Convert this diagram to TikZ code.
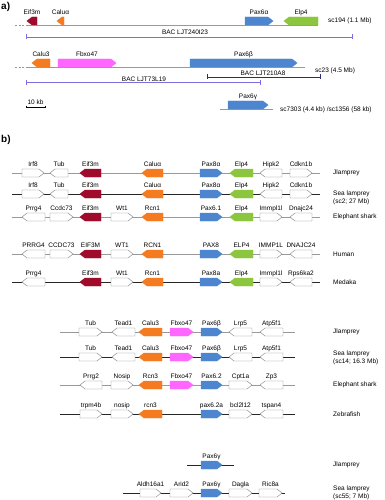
\documentclass[tikz,border=0pt]{standalone}
\usepackage{fontspec}
\setmainfont{Liberation Sans}
\definecolor{redG}{HTML}{9E0B2B}
\definecolor{orgG}{HTML}{F47B20}
\definecolor{bluG}{HTML}{4D86CF}
\definecolor{grnG}{HTML}{8CC63E}
\definecolor{magG}{HTML}{FF66FF}
\definecolor{bacA}{HTML}{7B6FE0}
\definecolor{bacB}{HTML}{2B2B7A}
\tikzset{
  wbox/.style={fill=white,draw=gray,line width=0.4pt},
  rbox/.style={fill=redG,draw=redG},
  obox/.style={fill=orgG,draw=orgG},
  bbox/.style={fill=bluG,draw=bluG},
  gbox/.style={fill=grnG,draw=grnG},
  mbox/.style={fill=magG,draw=magG},
  glabel/.style={font=\fontsize{6.5}{7}\selectfont,inner sep=0pt},
  slabel/.style={font=\fontsize{6.5}{7.8}\selectfont,inner sep=0pt,anchor=west,align=left},
  chrom/.style={line width=0.6pt,draw=gray!80},
  chromd/.style={line width=0.6pt,draw=black!85},
  baclineA/.style={line width=0.7pt,draw=bacA},
  baclineB/.style={line width=0.7pt,draw=bacB},
  panel/.style={font=\bfseries\fontsize{10}{12}\selectfont,inner sep=0pt,anchor=west}
}
% right-pointing gene: name, x1, x2, yc, style, label
\newcommand\geneR[6]{%
  \draw[#5] (#2,#4-4) -- (#3-5,#4-4) -- (#3,#4) -- (#3-5,#4+4) -- (#2,#4+4) -- cycle;
  \node[glabel] (#1) at ({(#2+#3)/2},#4-8.5) {#6};}
% left-pointing gene
\newcommand\geneL[6]{%
  \draw[#5] (#3,#4-4) -- (#2+5,#4-4) -- (#2,#4) -- (#2+5,#4+4) -- (#3,#4+4) -- cycle;
  \node[glabel] (#1) at ({(#2+#3)/2},#4-8.5) {#6};}
\begin{document}
\begin{tikzpicture}[x=1pt,y=-1pt]
\useasboundingbox (0,0) rectangle (385,500);
% ---------------- a) ----------------
\node[panel] (pa) at (1,7) {a)};
% row 1
\coordinate (r1s) at (15,25); \coordinate (r1a) at (27,25); \coordinate (r1e) at (318,25);
\draw[chrom,dashed,dash pattern=on 2pt off 1.5pt] (r1s) -- (r1a);
\draw[chrom] (r1a) -- (r1e);
\geneL{a1}{27}{37}{21}{rbox}{Eif3m}
\geneL{a2}{57}{64}{21}{obox}{Caluα}
\geneR{a3}{245}{273}{21}{bbox}{Pax6α}
\geneL{a4}{284}{318}{21}{gbox}{Elp4}
\node[slabel] (sa1) at (328,21) {sc194 (1.1 Mb)};
% BAC 240I23
\coordinate (b1s) at (26,37); \coordinate (b1e) at (352,37);
\draw[baclineA] (b1s) -- (b1e);
\draw[baclineA] ([yshift=2.5pt]b1s) -- ([yshift=-2.5pt]b1s);
\draw[baclineA] ([yshift=2.5pt]b1e) -- ([yshift=-2.5pt]b1e);
\node[glabel] (bl1) at (185,32.5) {BAC LJT240I23};
% row 2
\coordinate (r2s) at (15,67); \coordinate (r2a) at (27,67); \coordinate (r2e) at (305,67);
\draw[chrom,dashed,dash pattern=on 2pt off 1.5pt] (r2s) -- (r2a);
\draw[chrom] (r2a) -- (r2e);
\geneL{a5}{32}{50}{63}{obox}{Calu3}
\geneR{a6}{58}{116}{63}{mbox}{Fbxo47}
\geneR{a7}{190}{297}{63}{bbox}{Pax6β}
\node[slabel] (sa2) at (315,71) {sc23 (4.5 Mb)};
% BAC 210A8
\coordinate (b2s) at (207,77); \coordinate (b2e) at (320,77);
\draw[baclineB] (b2s) -- (b2e);
\draw[baclineB] ([yshift=2.5pt]b2s) -- ([yshift=-2.5pt]b2s);
\draw[baclineB] ([yshift=2.5pt]b2e) -- ([yshift=-2.5pt]b2e);
\node[glabel] (bl2) at (263,73) {BAC LJT210A8};
% BAC 73L19
\coordinate (b3s) at (26,82.5); \coordinate (b3e) at (260,82.5);
\draw[baclineA] (b3s) -- (b3e);
\draw[baclineA] ([yshift=2.5pt]b3s) -- ([yshift=-2.5pt]b3s);
\draw[baclineA] ([yshift=2.5pt]b3e) -- ([yshift=-2.5pt]b3e);
\node[glabel] (bl3) at (144,79) {BAC LJT73L19};
% scale
\coordinate (scs) at (26,107); \coordinate (sce) at (45,107);
\draw[line width=0.5pt] (scs) -- (sce);
\draw[line width=0.4pt] ([yshift=1pt]scs) -- ([yshift=-1pt]scs);
\draw[line width=0.4pt] ([yshift=1pt]sce) -- ([yshift=-1pt]sce);
\node[glabel] (scl) at (35.5,102.5) {10 kb};
% row 3
\coordinate (r3s) at (220,109); \coordinate (r3e) at (273,109);
\draw[chrom] (r3s) -- (r3e);
\geneR{a8}{228}{268}{105}{bbox}{Pax6γ}
\node[slabel] (sa3) at (280,109.5) {sc7303 (4.4 kb) /sc1356 (58 kb)};
% ---------------- b) ----------------
\node[panel] (pb) at (1,140) {b)};
% b1 Jlamprey
\coordinate (c1s) at (12,173); \coordinate (c1e) at (320,173);
\draw[chrom] (c1s) -- (c1e);
\geneR{g11}{22}{44}{173}{wbox}{Irf8}
\geneL{g12}{50}{68}{173}{wbox}{Tub}
\geneL{g13}{80}{101}{173}{rbox}{Eif3m}
\geneL{g14}{142}{163}{173}{obox}{Caluα}
\geneR{g15}{200}{222}{173}{bbox}{Pax8α}
\geneL{g16}{230}{253}{173}{gbox}{Elp4}
\geneL{g17}{260}{282}{173}{wbox}{Hipk2}
\geneR{g18}{290}{312}{173}{wbox}{Cdkn1b}
\node[slabel] (s1) at (333,173) {Jlamprey};
% b2 Sea lamprey
\coordinate (c2s) at (12,194); \coordinate (c2e) at (320,194);
\draw[chromd] (c2s) -- (c2e);
\geneR{g21}{22}{44}{194}{wbox}{Irf8}
\geneL{g22}{50}{68}{194}{wbox}{Tub}
\geneL{g23}{80}{101}{194}{rbox}{Eif3m}
\geneL{g24}{142}{163}{194}{obox}{Caluα}
\geneR{g25}{200}{222}{194}{bbox}{Pax8α}
\geneL{g26}{230}{253}{194}{gbox}{Elp4}
\geneL{g27}{260}{282}{194}{wbox}{Hipk2}
\geneR{g28}{290}{312}{194}{wbox}{Cdkn1b}
\node[slabel] (s2) at (333,197.5) {Sea lamprey\\(sc2; 27 Mb)};
% b3 Elephant shark
\coordinate (c3s) at (12,217); \coordinate (c3e) at (320,217);
\draw[chrom] (c3s) -- (c3e);
\geneL{g31}{22}{45}{217}{wbox}{Prrg4}
\geneR{g32}{50}{73}{217}{wbox}{Ccdc73}
\geneL{g33}{80}{101}{217}{rbox}{Eif3m}
\geneR{g34}{111}{133}{217}{wbox}{Wt1}
\geneL{g35}{142}{163}{217}{obox}{Rcn1}
\geneR{g36}{200}{222}{217}{bbox}{Pax6.1}
\geneL{g37}{230}{253}{217}{gbox}{Elp4}
\geneR{g38}{260}{282}{217}{wbox}{Immpl1l}
\geneL{g39}{290}{312}{217}{wbox}{Dnajc24}
\node[slabel] (s3) at (333,217) {Elephant shark};
% b4 Human
\coordinate (c4s) at (12,254); \coordinate (c4e) at (320,254);
\draw[chrom] (c4s) -- (c4e);
\geneL{g41}{22}{45}{254}{wbox}{PRRG4}
\geneR{g42}{50}{73}{254}{wbox}{CCDC73}
\geneL{g43}{80}{101}{254}{rbox}{EIF3M}
\geneR{g44}{111}{133}{254}{wbox}{WT1}
\geneL{g45}{142}{163}{254}{obox}{RCN1}
\geneR{g46}{200}{222}{254}{bbox}{PAX8}
\geneL{g47}{230}{253}{254}{gbox}{ELP4}
\geneR{g48}{260}{282}{254}{wbox}{IMMP1L}
\geneL{g49}{290}{312}{254}{wbox}{DNAJC24}
\node[slabel] (s4) at (333,254) {Human};
% b5 Medaka
\coordinate (c5s) at (12,282); \coordinate (c5e) at (320,282);
\draw[chromd] (c5s) -- (c5e);
\geneL{g51}{22}{45}{282}{wbox}{Prrg4}
\geneL{g53}{80}{101}{282}{rbox}{Eif3m}
\geneR{g54}{111}{133}{282}{wbox}{Wt1}
\geneL{g55}{142}{163}{282}{obox}{Rcn1}
\geneR{g56}{200}{222}{282}{bbox}{Pax8a}
\geneL{g57}{230}{253}{282}{gbox}{Elp4}
\geneR{g58}{260}{282}{282}{wbox}{Immpl1l}
\geneL{g59}{290}{312}{282}{wbox}{Rps6ka2}
\node[slabel] (s5) at (333,282) {Medaka};
% L1 Jlamprey
\coordinate (d1s) at (60,332); \coordinate (d1e) at (295,332);
\draw[chrom] (d1s) -- (d1e);
\geneR{h11}{79}{102}{332}{wbox}{Tub}
\geneL{h12}{112}{135}{332}{wbox}{Tead1}
\geneL{h13}{139}{162}{332}{obox}{Calu3}
\geneR{h14}{170}{193}{332}{mbox}{Fbxo47}
\geneR{h15}{201}{222}{332}{bbox}{Pax6β}
\geneL{h16}{229}{252}{332}{wbox}{Lrp5}
\geneL{h17}{260}{283}{332}{wbox}{Atp5f1}
\node[slabel] (t1) at (333,332) {Jlamprey};
% L2 Sea lamprey
\coordinate (d2s) at (60,357); \coordinate (d2e) at (295,357);
\draw[chromd] (d2s) -- (d2e);
\geneR{h21}{79}{102}{357}{wbox}{Tub}
\geneL{h22}{112}{135}{357}{wbox}{Tead1}
\geneL{h23}{139}{162}{357}{obox}{Calu3}
\geneR{h24}{170}{193}{357}{mbox}{Fbxo47}
\geneR{h25}{201}{222}{357}{bbox}{Pax6β}
\geneL{h26}{229}{252}{357}{wbox}{Lrp5}
\geneL{h27}{260}{283}{357}{wbox}{Atp5f1}
\node[slabel] (t2) at (333,358) {Sea lamprey\\(sc14; 16.3 Mb)};
% L3 Elephant shark
\coordinate (d3s) at (60,385); \coordinate (d3e) at (295,385);
\draw[chrom] (d3s) -- (d3e);
\geneL{h31}{80}{102}{385}{wbox}{Prrg2}
\geneR{h32}{111}{133}{385}{wbox}{Nosip}
\geneL{h33}{139}{162}{385}{obox}{Rcn3}
\geneR{h34}{170}{193}{385}{mbox}{Fbxo47}
\geneR{h35}{201}{222}{385}{bbox}{Pax6.2}
\geneR{h36}{229}{252}{385}{wbox}{Cpt1a}
\geneL{h37}{260}{283}{385}{wbox}{Zp3}
\node[slabel] (t3) at (333,385) {Elephant shark};
% L4 Zebrafish
\coordinate (d4s) at (60,414); \coordinate (d4e) at (295,414);
\draw[chromd] (d4s) -- (d4e);
\geneR{h41}{80}{102}{414}{wbox}{trpm4b}
\geneR{h42}{111}{133}{414}{wbox}{nosip}
\geneL{h43}{139}{162}{414}{obox}{rcn3}
\geneR{h45}{201}{222}{414}{bbox}{pax6.2a}
\geneR{h46}{229}{252}{414}{wbox}{bcl2l12}
\geneL{h47}{260}{283}{414}{wbox}{tspan4}
\node[slabel] (t4) at (333,414) {Zebrafish};
% L5 Jlamprey Pax6g
\coordinate (d5s) at (187,465); \coordinate (d5e) at (234,465);
\draw[chromd] (d5s) -- (d5e);
\geneR{h55}{201}{222}{465}{bbox}{Pax6γ}
\node[slabel] (t5) at (333,465) {Jlamprey};
% L6 Sea lamprey
\coordinate (d6s) at (123,493); \coordinate (d6e) at (285,493);
\draw[chromd] (d6s) -- (d6e);
\geneR{h61}{140}{161}{493}{wbox}{Aldh16a1}
\geneR{h62}{170}{193}{493}{wbox}{Arid2}
\geneR{h63}{201}{222}{493}{bbox}{Pax6γ}
\geneR{h64}{229}{252}{493}{wbox}{Dagla}
\geneR{h65}{259}{282}{493}{wbox}{Ric8a}
\node[slabel] (t6) at (333,493) {Sea lamprey\\(sc55; 7 Mb)};
\end{tikzpicture}
\end{document}
